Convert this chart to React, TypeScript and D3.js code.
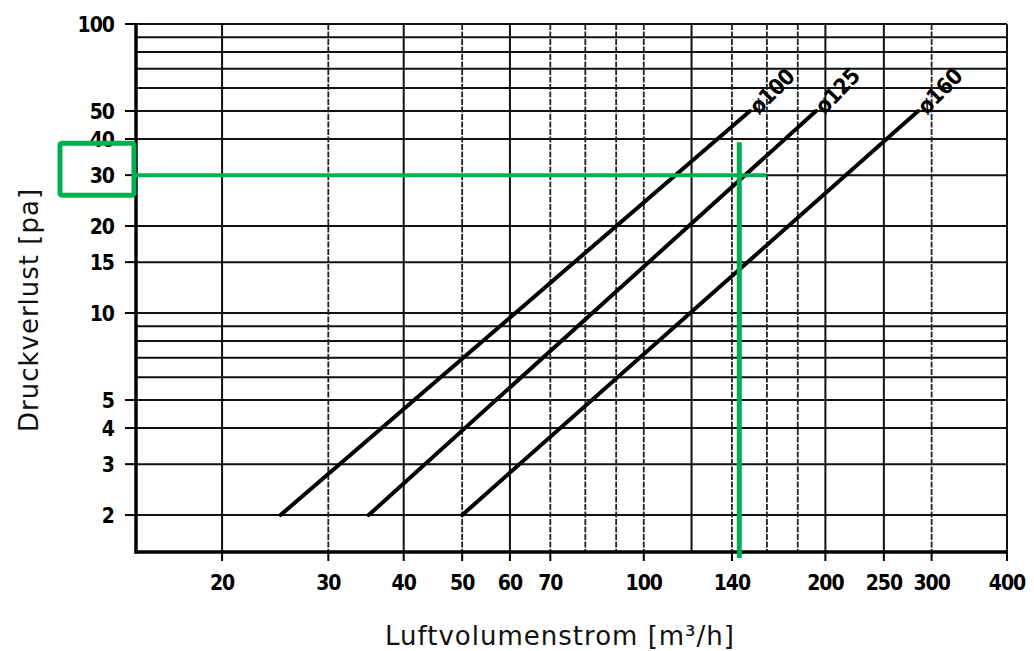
import { useEffect, useRef } from "react";
import * as d3 from "d3";

// Luftvolumenstrom [m³/h] vs Druckverlust [pa], log-log
const xTicks = [20, 30, 40, 50, 60, 70, 100, 140, 200, 250, 300, 400];
const yTicks = [2, 3, 4, 5, 10, 15, 20, 30, 40, 50, 100];
const xGridSolid = [20, 40, 60, 120, 200, 250, 400];
const xGridDotted = [30, 50, 70, 80, 90, 100, 140, 160, 180, 300];
const yGrid = [2, 3, 4, 5, 6, 7, 8, 9, 10, 15, 20, 30, 40, 50, 60, 70, 80, 90, 100];

const seriesNames = ["ø100", "ø125", "ø160"];
const flowAt2Pa = [25, 35, 50];
const flowAt50Pa = [150, 193, 285];
const pressureEnds = [2, 50];

// green reading aid
const readFlow = 144;
const readPressure = 30;
const hGuideEndFlow = 160;
const vGuideTopPressure = 39;

const W = 1034;
const H = 651;
const green = "#00b050";
const font = "'DejaVu Sans Condensed', 'DejaVu Sans', sans-serif";

function Chart() {
  const ref = useRef<SVGSVGElement>(null);

  useEffect(() => {
    const svg = d3.select(ref.current);
    svg.selectAll("*").remove();

    const x = d3.scaleLog().domain([14.4, 400]).range([136, 1007]);
    const y = d3.scaleLog().domain([1.49, 100]).range([552, 24]);
    const [x0, x1] = x.range();
    const [y0, y1] = y.range();

    // horizontal grid
    svg
      .append("g")
      .selectAll("line")
      .data(yGrid)
      .join("line")
      .attr("x1", x0)
      .attr("x2", x1)
      .attr("y1", (d) => y(d))
      .attr("y2", (d) => y(d))
      .attr("stroke", "#111")
      .attr("stroke-width", 2);

    // vertical grid
    svg
      .append("g")
      .selectAll("line")
      .data(xGridSolid)
      .join("line")
      .attr("x1", (d) => x(d))
      .attr("x2", (d) => x(d))
      .attr("y1", y1)
      .attr("y2", y0)
      .attr("stroke", "#111")
      .attr("stroke-width", 2);

    svg
      .append("g")
      .selectAll("line")
      .data(xGridDotted)
      .join("line")
      .attr("x1", (d) => x(d))
      .attr("x2", (d) => x(d))
      .attr("y1", y1)
      .attr("y2", y0)
      .attr("stroke", "#222")
      .attr("stroke-width", 1.8)
      .attr("stroke-dasharray", "6 1.5");

    // frame: thick left and bottom axes
    svg
      .append("line")
      .attr("x1", x0)
      .attr("x2", x0)
      .attr("y1", y1 - 1)
      .attr("y2", y0 + 1.5)
      .attr("stroke", "#000")
      .attr("stroke-width", 3.5);
    svg
      .append("line")
      .attr("x1", x0 - 1.5)
      .attr("x2", x1 + 1)
      .attr("y1", y0)
      .attr("y2", y0)
      .attr("stroke", "#000")
      .attr("stroke-width", 3.5);

    // y ticks + labels
    const yAxis = svg.append("g");
    yAxis
      .selectAll("line")
      .data(yTicks)
      .join("line")
      .attr("x1", x0 - 11)
      .attr("x2", x0)
      .attr("y1", (d) => y(d))
      .attr("y2", (d) => y(d))
      .attr("stroke", "#000")
      .attr("stroke-width", 2);
    yAxis
      .selectAll("text")
      .data(yTicks)
      .join("text")
      .attr("x", 114)
      .attr("y", (d) => y(d))
      .attr("dy", "0.36em")
      .attr("text-anchor", "end")
      .attr("font-family", font)
      .attr("font-weight", "bold")
      .attr("font-size", 21)
      .attr("letter-spacing", -1)
      .text((d) => d);

    // x ticks + labels
    const xAxis = svg.append("g");
    xAxis
      .selectAll("line")
      .data(xTicks)
      .join("line")
      .attr("x1", (d) => x(d))
      .attr("x2", (d) => x(d))
      .attr("y1", y0)
      .attr("y2", y0 + 9)
      .attr("stroke", "#000")
      .attr("stroke-width", 2);
    xAxis
      .selectAll("text")
      .data(xTicks)
      .join("text")
      .attr("x", (d) => x(d))
      .attr("y", 590)
      .attr("text-anchor", "middle")
      .attr("font-family", font)
      .attr("font-weight", "bold")
      .attr("font-size", 21)
      .attr("letter-spacing", -1)
      .text((d) => d);

    // axis titles
    svg
      .append("text")
      .attr("x", 560)
      .attr("y", 645)
      .attr("text-anchor", "middle")
      .attr("font-family", "'DejaVu Sans', sans-serif")
      .attr("font-size", 26)
      .attr("letter-spacing", 1)
      .attr("fill", "#111")
      .text("Luftvolumenstrom [m³/h]");
    svg
      .append("text")
      .attr("transform", "translate(38,310) rotate(-90)")
      .attr("text-anchor", "middle")
      .attr("font-family", "'DejaVu Sans', sans-serif")
      .attr("font-size", 26)
      .attr("letter-spacing", 1)
      .attr("fill", "#111")
      .text("Druckverlust [pa]");

    // series lines
    const line = d3
      .line<[number, number]>()
      .x((d) => x(d[0]))
      .y((d) => y(d[1]));

    seriesNames.forEach((name, i) => {
      const pts: [number, number][] = [
        [flowAt2Pa[i], pressureEnds[0]],
        [flowAt50Pa[i], pressureEnds[1]],
      ];
      svg
        .append("path")
        .attr("d", line(pts))
        .attr("fill", "none")
        .attr("stroke", "#000")
        .attr("stroke-width", 4)
        .attr("stroke-linecap", "round");

      const ex = x(pts[1][0]);
      const ey = y(pts[1][1]);
      const ang =
        (Math.atan2(ey - y(pts[0][1]), ex - x(pts[0][0])) * 180) / Math.PI - 4;
      svg
        .append("text")
        .attr("transform", `translate(${ex + 3},${ey - 1}) rotate(${ang})`)
        .attr("dy", "0.35em")
        .attr("font-family", font)
        .attr("font-weight", "bold")
        .attr("font-size", 22)
        .attr("letter-spacing", -0.5)
        .text(name);
    });

    // green reading aid
    svg
      .append("line")
      .attr("x1", x0)
      .attr("x2", x(hGuideEndFlow))
      .attr("y1", y(readPressure))
      .attr("y2", y(readPressure))
      .attr("stroke", green)
      .attr("stroke-width", 4);
    svg
      .append("line")
      .attr("x1", x(readFlow))
      .attr("x2", x(readFlow))
      .attr("y1", y(vGuideTopPressure))
      .attr("y2", y0 + 6)
      .attr("stroke", green)
      .attr("stroke-width", 5);
    svg
      .append("rect")
      .attr("x", 60)
      .attr("y", y(readPressure) - 32)
      .attr("width", 74)
      .attr("height", 52)
      .attr("rx", 2)
      .attr("fill", "none")
      .attr("stroke", green)
      .attr("stroke-width", 5);
  }, []);

  return (
    <svg
      ref={ref}
      width={W}
      height={H}
      style={{ position: "absolute", left: 0, top: 0, background: "#fff" }}
    />
  );
}

export default function App() {
  return <Chart />;
}
